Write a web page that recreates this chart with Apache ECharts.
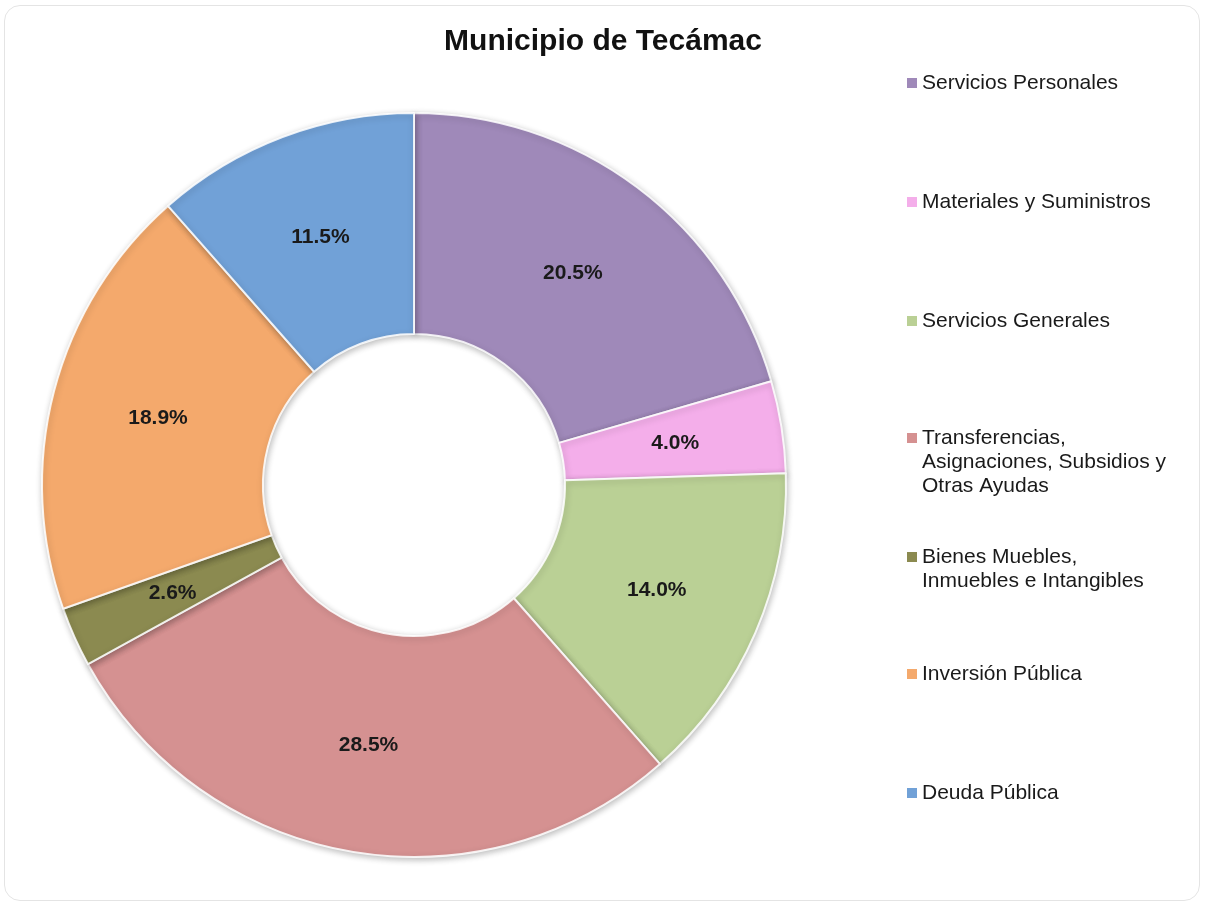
<!DOCTYPE html>
<html>
<head>
<meta charset="utf-8">
<script src="https://cdn.jsdelivr.net/npm/echarts@6/dist/echarts.min.js"></script>
<style>
html,body{margin:0;padding:0;background:#fff;}
#frame{position:absolute;left:4px;top:5px;width:1196px;height:896px;border:1px solid #e4e4e4;border-radius:16px;box-sizing:border-box;pointer-events:none;}
#chart{position:absolute;left:0;top:0;width:1206px;height:907px;}
</style>
</head>
<body>
<div id="chart"></div>
<div id="frame"></div>
<script>
const categories = [
  'Servicios Personales',
  'Materiales y Suministros',
  'Servicios Generales',
  'Transferencias,\nAsignaciones, Subsidios y\nOtras Ayudas',
  'Bienes Muebles,\nInmuebles e Intangibles',
  'Inversión Pública',
  'Deuda Pública'
];
const values = [20.5, 4.0, 14.0, 28.5, 2.6, 18.9, 11.5];
const colors = ['#9f89b9', '#f4aeea', '#bad095', '#d59191', '#8b8a50', '#f4a96c', '#71a1d7'];
const legendFirstLineY = [83, 202, 321, 438, 557, 674, 793];

const LH = 24;
const SQ = 10;
const legends = categories.map((name, i) => {
  const n = name.split('\n').length;
  const H = n * LH;
  const y0 = (LH - SQ) / 2;
  const icon = 'path://M0,' + y0 + 'L' + SQ + ',' + y0 + 'L' + SQ + ',' + (y0 + SQ) + 'L0,' + (y0 + SQ) + 'Z' +
               'M0,0L0,0.01L0.01,0Z M' + SQ + ',' + H + 'L' + SQ + ',' + (H - 0.01) + 'L' + (SQ - 0.01) + ',' + H + 'Z';
  return {
    orient: 'vertical',
    left: 907,
    top: legendFirstLineY[i] - LH / 2,
    padding: 0,
    itemWidth: SQ,
    itemHeight: H,
    icon: icon,
    selectedMode: false,
    itemStyle: {borderWidth: 0, shadowBlur: 0, shadowOffsetX: 0, shadowOffsetY: 0},
    data: [name],
    textStyle: {
      fontFamily: 'Liberation Sans, Arial, sans-serif',
      fontSize: 21,
      color: '#1a1a1a',
      lineHeight: LH
    }
  };
});

const chart = echarts.init(document.getElementById('chart'), null, {renderer: 'canvas'});
chart.setOption({
  backgroundColor: '#ffffff',
  animation: false,
  title: {
    text: 'Municipio de Tecámac',
    left: 'center',
    top: 22,
    textStyle: {
      fontFamily: 'Liberation Sans, Arial, sans-serif',
      fontSize: 30,
      fontWeight: 'bold',
      color: '#111'
    }
  },
  legend: legends,
  series: [{
    type: 'pie',
    center: [414, 485],
    radius: [151, 372],
    startAngle: 90,
    clockwise: true,
    avoidLabelOverlap: false,
    data: categories.map((name, i) => ({
      name: name,
      value: values[i],
      itemStyle: {color: colors[i]}
    })),
    itemStyle: {
      borderColor: 'rgba(255,255,255,0.85)',
      borderWidth: 2,
      shadowBlur: 6,
      shadowColor: 'rgba(0,0,0,0.25)',
      shadowOffsetX: 1,
      shadowOffsetY: 2
    },
    label: {
      show: true,
      position: 'inside',
      formatter: (p) => p.value.toFixed(1) + '%',
      fontFamily: 'Liberation Sans, Arial, sans-serif',
      fontSize: 21,
      fontWeight: 'bold',
      color: '#1a1a1a'
    },
    labelLine: {show: false},
    emphasis: {disabled: true}
  }]
});
</script>
</body>
</html>
